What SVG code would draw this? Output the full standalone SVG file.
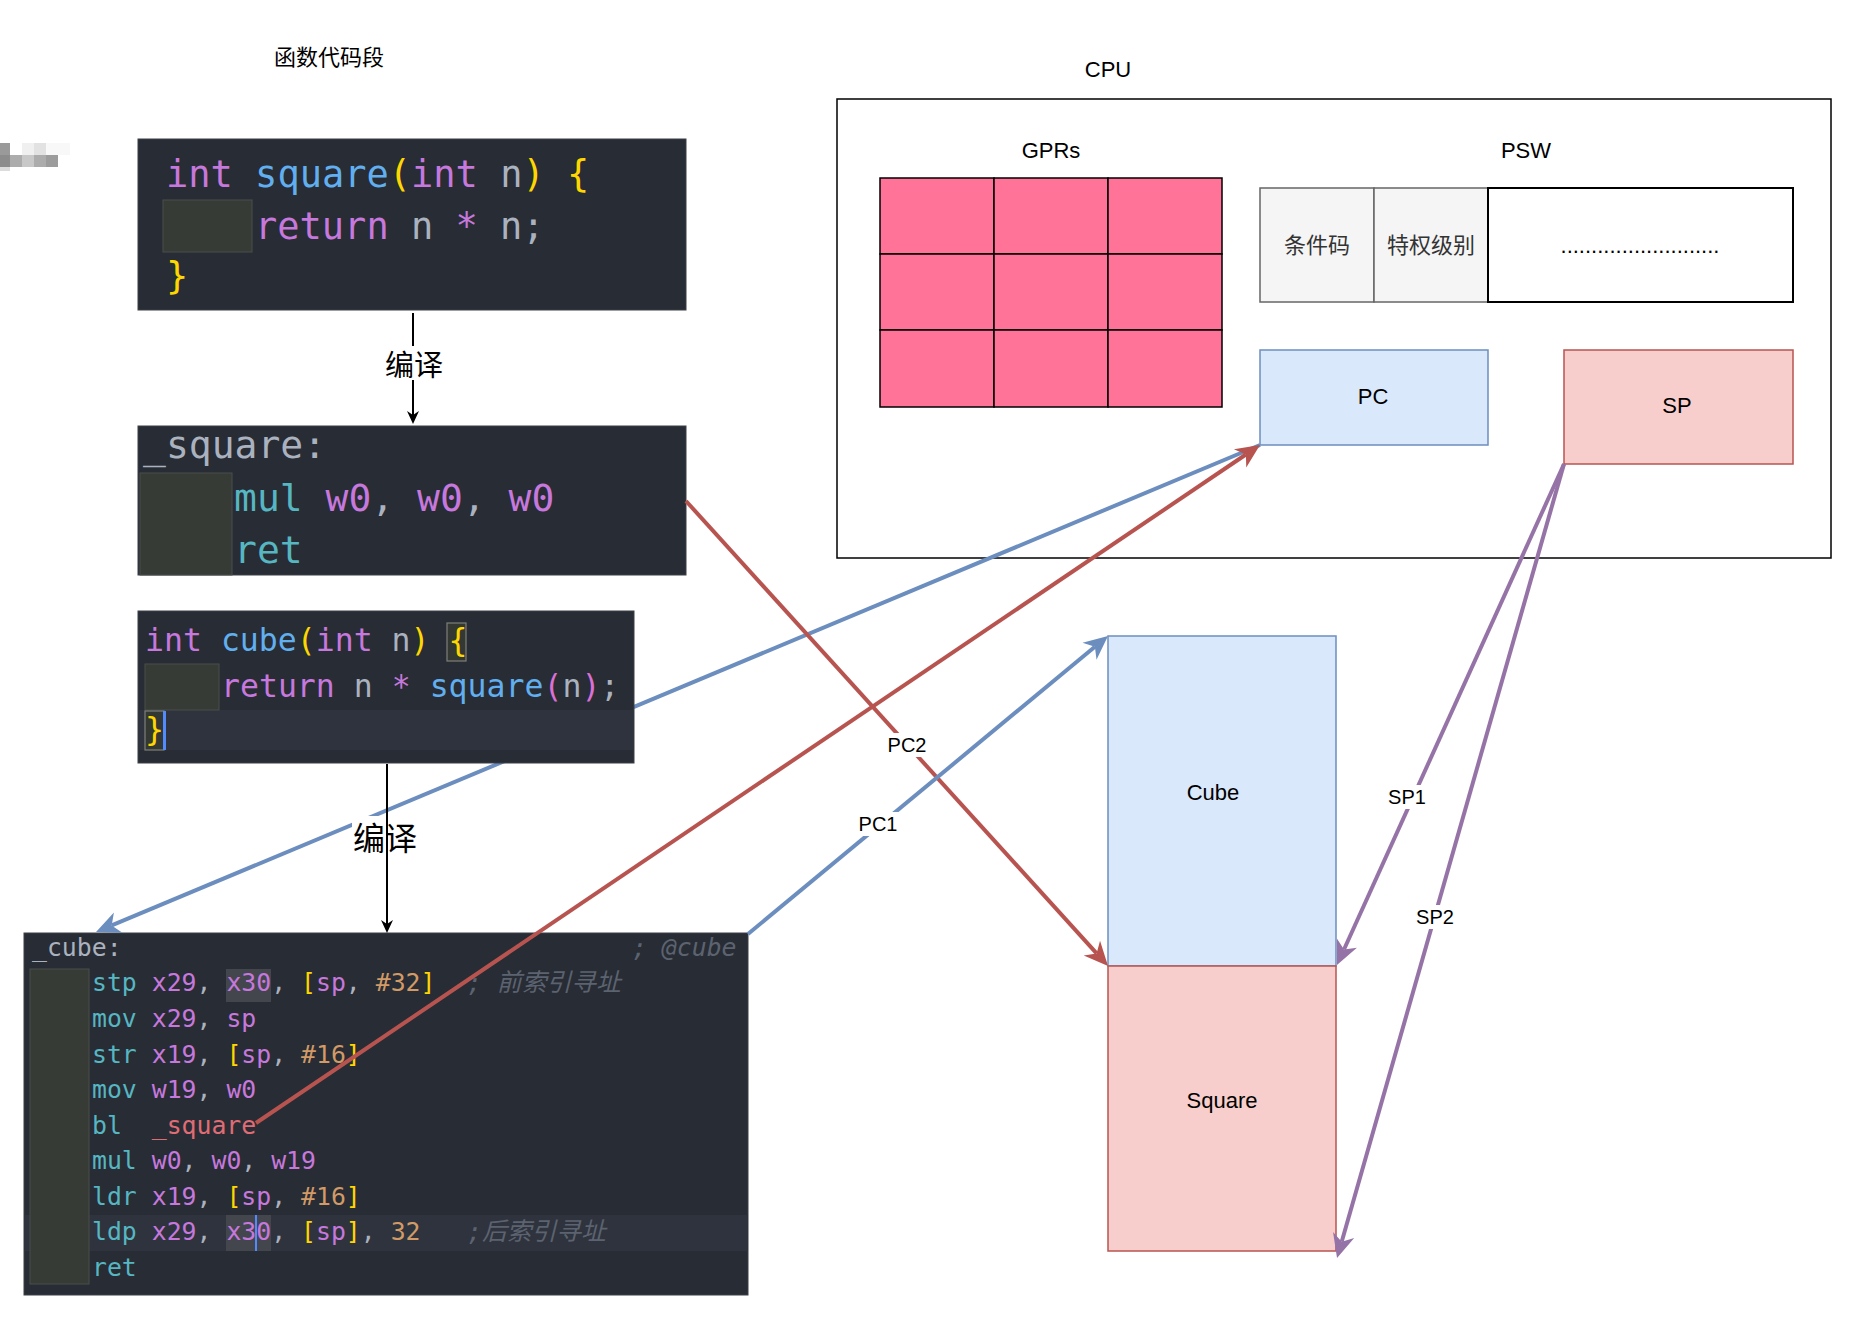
<svg xmlns="http://www.w3.org/2000/svg" width="1864" height="1320" viewBox="0 0 1864 1320">
<style>
.lbl{font-family:"Liberation Sans","Noto Sans CJK SC",sans-serif;font-size:22px;fill:#000;text-anchor:middle;dominant-baseline:central}
.elbl{font-family:"Liberation Sans",sans-serif;font-size:20px;fill:#000;text-anchor:middle;dominant-baseline:central}
.cjk{font-family:"Noto Sans CJK SC","Liberation Sans",sans-serif;fill:#000;text-anchor:middle;dominant-baseline:central}
.code{font-family:"DejaVu Sans Mono","Noto Sans CJK SC",monospace;fill:#abb2bf}
.codebg{fill:#282c34;stroke:#3b3f47;stroke-width:1}
.indent{fill:#373b36;stroke:#4b4f4a;stroke-width:1}
.k{fill:#c678dd}.f{fill:#61afef}.b{fill:#ffd700}.t{fill:#abb2bf}.c{fill:#56b6c2}.o{fill:#d19a66}.r{fill:#e06c75}.p2{fill:#da70d6}
.cm{fill:#5c6370;font-style:italic}
.gpr{fill:#ff7399;stroke:#000;stroke-width:1.5}
.edge{fill:none;stroke-width:4}
</style>
<defs>
<marker id="aBlue" markerUnits="userSpaceOnUse" viewBox="-8 -12 26 24" refX="0" refY="0" markerWidth="26" markerHeight="24" orient="auto"><path d="M17,0 L-7,-11 L0,0 L-7,11 Z" fill="#6c8ebf"/></marker>
<marker id="aRed" markerUnits="userSpaceOnUse" viewBox="-8 -12 26 24" refX="0" refY="0" markerWidth="26" markerHeight="24" orient="auto"><path d="M17,0 L-7,-11 L0,0 L-7,11 Z" fill="#b85450"/></marker>
<marker id="aPur" markerUnits="userSpaceOnUse" viewBox="-8 -12 26 24" refX="0" refY="0" markerWidth="26" markerHeight="24" orient="auto"><path d="M17,0 L-7,-11 L0,0 L-7,11 Z" fill="#9673a6"/></marker>
<marker id="aBlk" markerUnits="userSpaceOnUse" viewBox="-5 -7 15 14" refX="0" refY="0" markerWidth="15" markerHeight="14" orient="auto"><path d="M9,0 L-4,-6 L0,0 L-4,6 Z" fill="#000"/></marker>
</defs>
<rect width="1864" height="1320" fill="#fff"/>

<g id="title-func">
<text class="cjk" x="329" y="55" font-size="22">函数代码段</text>
</g>

<g id="blur">
<rect x="0" y="143" width="10" height="12" fill="#9a9a9a"/>
<rect x="22" y="143" width="12" height="12" fill="#f0f0f0"/>
<rect x="34" y="143" width="12" height="12" fill="#e2e2e2"/>
<rect x="46" y="143" width="24" height="12" fill="#f8f8f8"/>
<rect x="0" y="155" width="10" height="12" fill="#8c8c8c"/>
<rect x="10" y="155" width="12" height="12" fill="#acacac"/>
<rect x="22" y="155" width="12" height="12" fill="#c8c8c8"/>
<rect x="34" y="155" width="12" height="12" fill="#acacac"/>
<rect x="46" y="155" width="12" height="12" fill="#9c9c9c"/>
<rect x="0" y="167" width="10" height="4" fill="#dcdcdc"/>
</g>

<g id="code-square-c">
<rect class="codebg" x="138" y="139" width="548" height="171"/>
<rect class="indent" x="163" y="200" width="89" height="52"/>
<text class="code" font-size="37" x="166" y="187" xml:space="preserve"><tspan class="k">int</tspan> <tspan class="f">square</tspan><tspan class="b">(</tspan><tspan class="k">int</tspan> <tspan class="t">n</tspan><tspan class="b">)</tspan> <tspan class="b">{</tspan></text>
<text class="code" font-size="37" x="255" y="239" xml:space="preserve"><tspan class="k">return</tspan> <tspan class="t">n</tspan> <tspan class="k">*</tspan> <tspan class="t">n;</tspan></text>
<text class="code" font-size="37" x="166" y="289"><tspan class="b">}</tspan></text>
</g>

<g id="code-square-asm">
<rect class="codebg" x="138" y="426" width="548" height="149"/>
<rect class="indent" x="140" y="473" width="92" height="102"/>
<text class="code" font-size="38" x="143" y="458">_square:</text>
<text class="code" font-size="38" x="234" y="511" xml:space="preserve"><tspan class="c">mul</tspan> <tspan class="k">w0</tspan>, <tspan class="k">w0</tspan>, <tspan class="k">w0</tspan></text>
<text class="code" font-size="38" x="234" y="563"><tspan class="c">ret</tspan></text>
</g>

<g id="code-cube-asm">
<rect class="codebg" x="24" y="933" width="724" height="362"/>
<rect x="24" y="1215" width="724" height="36" fill="#2f333d"/>
<rect class="indent" x="30" y="969" width="59" height="315"/>
<rect x="226" y="969" width="45" height="33" fill="#43464d"/>
<rect x="226" y="1215" width="45" height="36" fill="#43464d"/>
<text class="code" font-size="24.8" x="32" y="956">_cube:</text>
<text class="code cm" font-size="24.8" x="632" y="956">; @cube</text>
<text class="code" font-size="24.8" x="92" y="991" xml:space="preserve"><tspan class="c">stp</tspan> <tspan class="k">x29</tspan>, <tspan class="k">x30</tspan>, <tspan class="b">[</tspan><tspan class="k">sp</tspan>, <tspan class="o">#32</tspan><tspan class="b">]</tspan></text>
<text class="code cm" font-size="24.8" x="467" y="991" xml:space="preserve">; 前索引寻址</text>
<text class="code" font-size="24.8" x="92" y="1027" xml:space="preserve"><tspan class="c">mov</tspan> <tspan class="k">x29</tspan>, <tspan class="k">sp</tspan></text>
<text class="code" font-size="24.8" x="92" y="1063" xml:space="preserve"><tspan class="c">str</tspan> <tspan class="k">x19</tspan>, <tspan class="b">[</tspan><tspan class="k">sp</tspan>, <tspan class="o">#16</tspan><tspan class="b">]</tspan></text>
<text class="code" font-size="24.8" x="92" y="1098" xml:space="preserve"><tspan class="c">mov</tspan> <tspan class="k">w19</tspan>, <tspan class="k">w0</tspan></text>
<text class="code" font-size="24.8" x="92" y="1134" xml:space="preserve"><tspan class="c">bl</tspan>  <tspan class="r">_square</tspan></text>
<text class="code" font-size="24.8" x="92" y="1169" xml:space="preserve"><tspan class="c">mul</tspan> <tspan class="k">w0</tspan>, <tspan class="k">w0</tspan>, <tspan class="k">w19</tspan></text>
<text class="code" font-size="24.8" x="92" y="1205" xml:space="preserve"><tspan class="c">ldr</tspan> <tspan class="k">x19</tspan>, <tspan class="b">[</tspan><tspan class="k">sp</tspan>, <tspan class="o">#16</tspan><tspan class="b">]</tspan></text>
<text class="code" font-size="24.8" x="92" y="1240" xml:space="preserve"><tspan class="c">ldp</tspan> <tspan class="k">x29</tspan>, <tspan class="k">x30</tspan>, <tspan class="b">[</tspan><tspan class="k">sp</tspan><tspan class="b">]</tspan>, <tspan class="o">32</tspan></text>
<text class="code cm" font-size="24.8" x="467" y="1240">;后索引寻址</text>
<rect x="255" y="1215" width="2" height="36" fill="#528bff"/>
<text class="code" font-size="24.8" x="92" y="1276"><tspan class="c">ret</tspan></text>
</g>

<g id="cpu">
<text class="lbl" x="1108" y="69">CPU</text>
<rect x="837" y="99" width="994" height="459" fill="#fff" stroke="#000" stroke-width="1.5"/>
</g>

<g id="gprs">
<text class="lbl" x="1051" y="150">GPRs</text>
<rect class="gpr" x="880" y="178" width="114" height="76"/>
<rect class="gpr" x="994" y="178" width="114" height="76"/>
<rect class="gpr" x="1108" y="178" width="114" height="76"/>
<rect class="gpr" x="880" y="254" width="114" height="76"/>
<rect class="gpr" x="994" y="254" width="114" height="76"/>
<rect class="gpr" x="1108" y="254" width="114" height="76"/>
<rect class="gpr" x="880" y="330" width="114" height="77"/>
<rect class="gpr" x="994" y="330" width="114" height="77"/>
<rect class="gpr" x="1108" y="330" width="114" height="77"/>
</g>

<g id="psw">
<text class="lbl" x="1526" y="150">PSW</text>
<rect x="1260" y="188" width="114" height="114" fill="#f5f5f5" stroke="#666" stroke-width="1.5"/>
<text class="lbl" x="1317" y="245" style="fill:#333">条件码</text>
<rect x="1374" y="188" width="114" height="114" fill="#f5f5f5" stroke="#666" stroke-width="1.5"/>
<text class="lbl" x="1431" y="245" style="fill:#333">特权级别</text>
<rect x="1488" y="188" width="305" height="114" fill="#fff" stroke="#000" stroke-width="2"/>
<text class="lbl" x="1640" y="245">..........................</text>
</g>

<g id="pc">
<rect x="1260" y="350" width="228" height="95" fill="#dae8fc" stroke="#6c8ebf" stroke-width="1.5"/>
<text class="lbl" x="1373" y="396">PC</text>
</g>

<g id="sp">
<rect x="1564" y="350" width="229" height="114" fill="#f8cecc" stroke="#b85450" stroke-width="1.5"/>
<text class="lbl" x="1677" y="405">SP</text>
</g>

<g id="cube">
<rect x="1108" y="636" width="228" height="330" fill="#dae8fc" stroke="#6c8ebf" stroke-width="1.5"/>
<text class="lbl" x="1213" y="792">Cube</text>
</g>

<g id="square">
<rect x="1108" y="966" width="228" height="285" fill="#f8cecc" stroke="#b85450" stroke-width="1.5"/>
<text class="lbl" x="1222" y="1100">Square</text>
</g>

<g id="connectors">
<line class="edge" x1="1260" y1="445" x2="111.7" y2="925.4" stroke="#6c8ebf" marker-end="url(#aBlue)"/>
<line class="edge" x1="256" y1="1123" x2="1245.9" y2="454.5" stroke="#b85450" marker-end="url(#aRed)"/>
<line class="edge" x1="686" y1="501" x2="1096.6" y2="953.4" stroke="#b85450" marker-end="url(#aRed)"/>
<line class="edge" x1="748" y1="934" x2="1094.9" y2="646.8" stroke="#6c8ebf" marker-end="url(#aBlue)"/>
<line class="edge" x1="1564" y1="464" x2="1344" y2="949.5" stroke="#9673a6" marker-end="url(#aPur)"/>
<line class="edge" x1="1564" y1="464" x2="1341.7" y2="1241.7" stroke="#9673a6" marker-end="url(#aPur)"/>
<rect x="886" y="733" width="42" height="24" fill="#fff"/>
<text class="elbl" x="907" y="745">PC2</text>
<rect x="857" y="812" width="42" height="24" fill="#fff"/>
<text class="elbl" x="878" y="824">PC1</text>
<rect x="1387" y="785" width="40" height="24" fill="#fff"/>
<text class="elbl" x="1407" y="797">SP1</text>
<rect x="1415" y="905" width="40" height="24" fill="#fff"/>
<text class="elbl" x="1435" y="917">SP2</text>
<line x1="413" y1="313" x2="413" y2="415" stroke="#000" stroke-width="2" marker-end="url(#aBlk)"/>
<rect x="384" y="346" width="60" height="34" fill="#fff"/>
<text class="cjk" x="414" y="363" font-size="29">编译</text>
<rect x="352" y="816" width="66" height="40" fill="#fff"/>
<text class="cjk" x="385" y="836" font-size="32">编译</text>
<line x1="387" y1="764" x2="387" y2="924" stroke="#000" stroke-width="2" marker-end="url(#aBlk)"/>
</g>

<g id="code-cube-c">
<rect class="codebg" x="138" y="611" width="496" height="152"/>
<rect x="139" y="710" width="494" height="40" fill="#2f333d"/>
<rect class="indent" x="145" y="664" width="74" height="46"/>
<rect x="447" y="623" width="19" height="38" fill="#343833" stroke="#7d8079" stroke-width="1.2"/>
<rect x="145" y="711" width="19" height="39" fill="#343833" stroke="#7d8079" stroke-width="1.2"/>
<rect x="163" y="711" width="3" height="39" fill="#528bff"/>
<text class="code" font-size="31.5" x="145" y="651" xml:space="preserve"><tspan class="k">int</tspan> <tspan class="f">cube</tspan><tspan class="b">(</tspan><tspan class="k">int</tspan> <tspan class="t">n</tspan><tspan class="b">)</tspan> <tspan class="b">{</tspan></text>
<text class="code" font-size="31.5" x="221" y="697" xml:space="preserve"><tspan class="k">return</tspan> <tspan class="t">n</tspan> <tspan class="k">*</tspan> <tspan class="f">square</tspan><tspan class="p2">(</tspan><tspan class="t">n</tspan><tspan class="p2">)</tspan><tspan class="t">;</tspan></text>
<text class="code" font-size="31.5" x="145" y="740"><tspan class="b">}</tspan></text>
</g>
</svg>
